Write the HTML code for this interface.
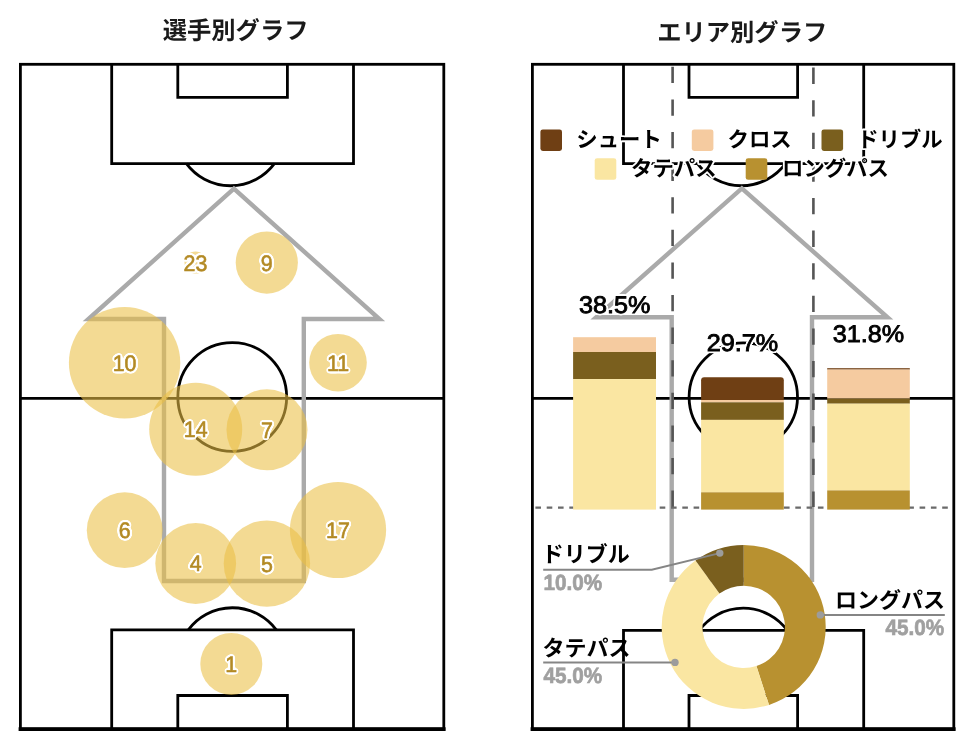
<!DOCTYPE html>
<html lang="ja">
<head>
<meta charset="utf-8">
<title>選手別グラフ / エリア別グラフ</title>
<style>
html,body{margin:0;padding:0;background:#fff;}
body{width:972px;height:748px;overflow:hidden;position:relative;}
svg{display:block;position:absolute;left:0;top:0;will-change:transform;}
text{text-rendering:geometricPrecision;}
.title{font-family:"Liberation Sans","Noto Sans CJK JP",sans-serif;font-weight:700;font-size:24.3px;fill:#1a1a1a;}
.numf{font-family:"Liberation Sans","Noto Sans CJK JP",sans-serif;font-size:22.5px;font-weight:400;text-anchor:middle;fill:#b38a24;stroke:#b38a24;stroke-width:0.6px;filter:url(#haloN);}
.lg{font-family:"Liberation Sans","Noto Sans CJK JP",sans-serif;font-size:21.4px;font-weight:700;fill:#000;stroke:#fff;stroke-width:3.6px;paint-order:stroke fill;stroke-linejoin:round;}
.pctf{font-family:"Liberation Sans","Noto Sans CJK JP",sans-serif;font-size:24px;font-weight:400;fill:#000;stroke:#000;stroke-width:0.85px;text-anchor:middle;filter:url(#haloP);}
.pl{font-family:"Liberation Sans","Noto Sans CJK JP",sans-serif;font-size:22px;font-weight:700;fill:#000;}
.pv{font-family:"Liberation Sans","Noto Sans CJK JP",sans-serif;font-size:22px;font-weight:700;fill:#a0a0a0;stroke:#a0a0a0;stroke-width:0.7px;}
</style>
</head>
<body>
<svg width="972" height="748" viewBox="0 0 972 748">
<defs>
<filter id="haloN" x="-30%" y="-30%" width="160%" height="160%" color-interpolation-filters="sRGB">
<feGaussianBlur in="SourceAlpha" stdDeviation="1.5" result="b"/>
<feComponentTransfer in="b" result="t"><feFuncA type="linear" slope="20" intercept="-0.6"/></feComponentTransfer>
<feFlood flood-color="#ffffff" result="w"/>
<feComposite in="w" in2="t" operator="in" result="h"/>
<feMerge><feMergeNode in="h"/><feMergeNode in="SourceGraphic"/></feMerge>
</filter>
<filter id="haloP" x="-20%" y="-30%" width="140%" height="160%" color-interpolation-filters="sRGB">
<feGaussianBlur in="SourceAlpha" stdDeviation="1.2" result="b"/>
<feComponentTransfer in="b" result="t"><feFuncA type="linear" slope="20" intercept="-0.6"/></feComponentTransfer>
<feFlood flood-color="#ffffff" result="w"/>
<feComposite in="w" in2="t" operator="in" result="h"/>
<feMerge><feMergeNode in="h"/><feMergeNode in="SourceGraphic"/></feMerge>
</filter>
</defs>
<rect width="972" height="748" fill="#fff"/>
<g id="all">

<text class="title" x="235.6" y="38.9" text-anchor="middle">選手別グラフ</text>
<text class="title" x="742.2" y="41" text-anchor="middle">エリア別グラフ</text>
<g id="left-field">
<g fill="none" stroke="#000" stroke-width="2.8">
<rect x="20.4" y="64.3" width="423.40" height="664.80"/>
<line x1="20.4" y1="729.1" x2="443.8" y2="729.1" stroke-width="3.5999999999999996" stroke-linecap="square"/>
<line x1="20.4" y1="398.3" x2="443.8" y2="398.3"/>
<circle cx="232.25" cy="397" r="54.4"/>
<path d="M111.7,64.3 V163.6 H353.5 V64.3"/>
<path d="M177.8,64.3 V97.4 H287.4 V64.3"/>
<path d="M186.4,163.6 A54.8,54.8 0 0 0 274.4,163.6"/>
<path d="M111.7,729.1 V629.9 H353.5 V729.1"/>
<path d="M177.8,729.1 V695.5 H287.4 V729.1"/>
<path d="M188.3,629.9 A54.8,54.8 0 0 1 276.3,629.9"/>
</g>
<path d="M233.9,188.7 L379.4,319 H303.8 V581 H164.0 V319 H88.4 Z" fill="none" stroke="#aaaaaa" stroke-width="4.4" stroke-linejoin="miter" stroke-miterlimit="10"/>
<g fill="#eac045" fill-opacity="0.58">
<circle cx="195.5" cy="262.6" r="11"/>
<circle cx="266.8" cy="262.6" r="31.1"/>
<circle cx="124.6" cy="362.7" r="55.7"/>
<circle cx="338" cy="362.7" r="28.8"/>
<circle cx="195.7" cy="429.3" r="46.5"/>
<circle cx="267" cy="429.8" r="40.5"/>
<circle cx="124.7" cy="530.2" r="37.9"/>
<circle cx="338" cy="530" r="48.1"/>
<circle cx="195.7" cy="563.5" r="40.4"/>
<circle cx="266.9" cy="563.6" r="43.2"/>
<circle cx="231.3" cy="663.9" r="31"/>
</g>
<g transform="translate(195.5,270.5) scale(0.95,1)"><text class="numf" x="0" y="0">23</text></g>
<g transform="translate(266.8,270.5) scale(0.95,1)"><text class="numf" x="0" y="0">9</text></g>
<g transform="translate(124.6,370.6) scale(0.95,1)"><text class="numf" x="0" y="0">10</text></g>
<g transform="translate(338,370.6) scale(0.95,1)"><text class="numf" x="0" y="0">11</text></g>
<g transform="translate(195.7,437.2) scale(0.95,1)"><text class="numf" x="0" y="0">14</text></g>
<g transform="translate(267,437.7) scale(0.95,1)"><text class="numf" x="0" y="0">7</text></g>
<g transform="translate(124.7,538.1) scale(0.95,1)"><text class="numf" x="0" y="0">6</text></g>
<g transform="translate(338,537.9) scale(0.95,1)"><text class="numf" x="0" y="0">17</text></g>
<g transform="translate(195.7,571.4) scale(0.95,1)"><text class="numf" x="0" y="0">4</text></g>
<g transform="translate(266.9,571.5) scale(0.95,1)"><text class="numf" x="0" y="0">5</text></g>
<g transform="translate(231.3,671.8) scale(0.95,1)"><text class="numf" x="0" y="0">1</text></g>
</g>
<g id="right-field">
<g fill="none" stroke="#000" stroke-width="2.8">
<rect x="532.4" y="64.3" width="421.40" height="664.80"/>
<line x1="532.4" y1="729.1" x2="953.8" y2="729.1" stroke-width="3.5999999999999996" stroke-linecap="square"/>
<line x1="532.4" y1="398.3" x2="953.8" y2="398.3"/>
<circle cx="743.3" cy="397" r="54.2"/>
<path d="M623.5,64.3 V163.6 H863.7 V64.3"/>
<path d="M689,64.3 V97.4 H797.6 V64.3"/>
<path d="M697.5,163.6 A54.8,54.8 0 0 0 785.5,163.6"/>
<path d="M623.5,729.1 V630.3 H863.7 V729.1"/>
<path d="M689,729.1 V695.5 H797.6 V729.1"/>
<path d="M699.3,630.3 A54.8,54.8 0 0 1 787.3,630.3"/>
</g>
<path d="M741.85,188.4 L887.5,317.3 H812.0 V579.7 H671.7 V317.3 H596.2 Z" fill="none" stroke="#aaaaaa" stroke-width="4.4" stroke-linejoin="miter" stroke-miterlimit="10"/>
<g stroke="#555" stroke-width="2.6" stroke-dasharray="16.3 16.3" fill="none">
<line x1="672.6" y1="66.8" x2="672.6" y2="507"/>
<line x1="813.4" y1="67.6" x2="813.4" y2="507"/>
</g>
<line x1="535.4" y1="507.7" x2="953" y2="507.7" stroke="#6a6a6a" stroke-width="2.2" stroke-dasharray="5.6 5.7" fill="none"/>
<rect x="573.1" y="337.2" width="82.90" height="14.80" fill="#f5cba0"/>
<rect x="573.1" y="352.0" width="82.90" height="27.10" fill="#7a5f1e"/>
<rect x="573.1" y="379.1" width="82.90" height="130.50" fill="#fae6a2"/>
<path d="M701.1,400.0 V380.2 Q701.1,377.2 704.1,377.2 H780.8 Q783.8,377.2 783.8,380.2 V400.0 Z" fill="#6f3f14"/>
<rect x="701.1" y="400.0" width="82.70" height="2.30" fill="#f5cba0"/>
<rect x="701.1" y="402.3" width="82.70" height="17.60" fill="#7a5f1e"/>
<rect x="701.1" y="419.9" width="82.70" height="72.40" fill="#fae6a2"/>
<rect x="701.1" y="492.3" width="82.70" height="17.30" fill="#b89130"/>
<rect x="827.2" y="368.2" width="82.60" height="1.40" fill="#6f3f14"/>
<rect x="827.2" y="369.6" width="82.60" height="29.00" fill="#f5cba0"/>
<rect x="827.2" y="398.6" width="82.60" height="5.10" fill="#7a5f1e"/>
<rect x="827.2" y="403.7" width="82.60" height="86.70" fill="#fae6a2"/>
<rect x="827.2" y="490.4" width="82.60" height="19.20" fill="#b89130"/>
<g transform="translate(614.8,312.6) scale(1.05,1)"><text class="pctf" x="0" y="0">38.5%</text></g>
<g transform="translate(742.4,351.1) scale(1.05,1)"><text class="pctf" x="0" y="0">29.7%</text></g>
<g transform="translate(868.5,341.8) scale(1.05,1)"><text class="pctf" x="0" y="0">31.8%</text></g>
<rect x="540.4" y="129.4" width="21.6" height="21.6" rx="2.4" fill="#6f3f14"/>
<text class="lg" x="576.3" y="147.4">シュート</text>
<rect x="691.8" y="129.4" width="21.6" height="21.6" rx="2.4" fill="#f5cba0"/>
<text class="lg" x="727.5" y="147.4">クロス</text>
<rect x="821.5" y="129.4" width="21.6" height="21.6" rx="2.4" fill="#7a5f1e"/>
<text class="lg" x="857.2" y="147.4">ドリブル</text>
<rect x="594.7" y="158.2" width="21.6" height="21.6" rx="2.4" fill="#fae6a2"/>
<text class="lg" x="631" y="176.2">タテパス</text>
<rect x="745.7" y="158.2" width="21.6" height="21.6" rx="2.4" fill="#b89130"/>
<text class="lg" x="782" y="176.2">ロングパス</text>
<path d="M743.70,544.90 A82,82 0 0 1 769.04,704.89 L756.43,666.08 A41.2,41.2 0 0 0 743.70,585.70 Z" fill="#b89130"/>
<path d="M769.04,704.89 A82,82 0 0 1 695.50,560.56 L719.48,593.57 A41.2,41.2 0 0 0 756.43,666.08 Z" fill="#fae6a2"/>
<path d="M695.50,560.56 A82,82 0 0 1 743.70,544.90 L743.70,585.70 A41.2,41.2 0 0 0 719.48,593.57 Z" fill="#7a5f1e"/>
<g fill="none" stroke="#858585" stroke-width="2">
<path d="M543.2,569.7 H651.8 L719.8,553.1"/>
<path d="M543.2,662.4 H675"/>
<path d="M820.3,614.9 H944.8"/>
</g>
<g fill="#9c9c9c">
<circle cx="719.8" cy="553.1" r="3.7"/>
<circle cx="675" cy="662.4" r="3.7"/>
<circle cx="820.3" cy="614.9" r="3.7"/>
</g>
<text class="pl" x="541.8" y="561.9">ドリブル</text>
<text class="pv" transform="translate(543.6,589.5) scale(0.94,1)">10.0%</text>
<text class="pl" x="542.5" y="655.5">タテパス</text>
<text class="pv" transform="translate(543.6,682.5) scale(0.94,1)">45.0%</text>
<text class="pl" x="945" y="608.2" text-anchor="end">ロングパス</text>
<text class="pv" transform="translate(944.2,635.4) scale(0.94,1)" text-anchor="end">45.0%</text>
</g>
</g>
</svg>
</body>
</html>
